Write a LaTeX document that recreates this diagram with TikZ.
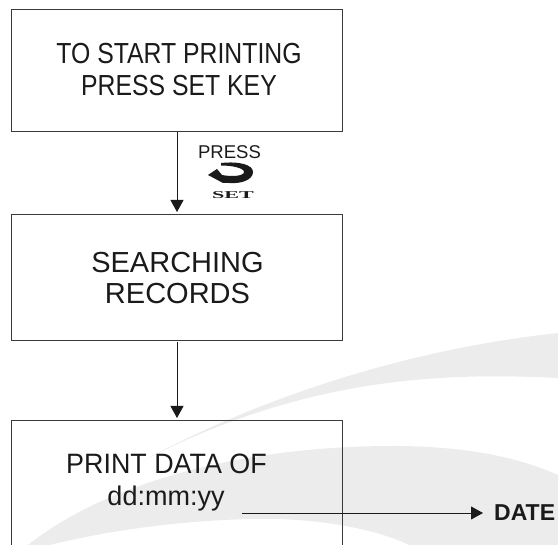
\documentclass[tikz,border=0pt]{standalone}
\usepackage{fontspec}
\setmainfont{Liberation Sans}
\newfontfamily\condfont[FakeStretch=0.855]{Liberation Sans}
\newfontfamily\semifont[FakeStretch=0.96]{Liberation Sans}
\newfontfamily\widefont[FakeStretch=2.1]{Liberation Serif}
\usetikzlibrary{arrows.meta}
\definecolor{swoosh}{HTML}{EBECEB}
\definecolor{ink}{HTML}{1A1A1A}
\definecolor{boxline}{HTML}{3A3A3A}
\tikzset{
  x=1pt,y=-1pt,
  flowbox/.style={draw=boxline,line width=0.9pt,minimum width=331pt,anchor=north west,inner sep=0pt},
  boxtext/.style={text=ink,align=center,inner sep=0pt},
  conn/.style={draw=ink,line width=0.9pt,-{Triangle[length=12pt,width=13pt]}},
  smalltext/.style={text=ink,inner sep=0pt}
}
\begin{document}
\begin{tikzpicture}
\useasboundingbox (0,0) rectangle (558,545);
% background swooshes
\begin{scope}
\clip (0,0) rectangle (558,545);
\fill[swoosh] (139,463) .. controls (250,402) and (400,350) .. (558,333)
  -- (558,378) .. controls (440,372) and (300,378) .. (139,463) -- cycle;
\fill[swoosh] (28,545) .. controls (110,480) and (250,445) .. (400,446)
  .. controls (470,447) and (520,458) .. (558,475)
  -- (558,545) -- (409,545) .. controls (375,528) and (310,517) .. (249,519)
  .. controls (180,521) and (110,530) .. (50,545) -- cycle;
\end{scope}
% boxes
\node[flowbox,minimum height=122pt] (b1) at (11,9) {};
\node[flowbox,minimum height=126pt] (b2) at (11,214) {};
\begin{scope}
\clip (0,400) rectangle (558,545);
\node[flowbox,minimum height=140pt] (b3) at (11,420) {};
\end{scope}
\node[boxtext,font=\condfont\fontsize{29}{32}\selectfont] (t1) at (179,70) {TO START PRINTING\\PRESS SET KEY};
\node[boxtext,font=\fontsize{29}{31}\selectfont] (t2) at (177.5,278) {SEARCHING\\RECORDS};
\node[boxtext,font=\semifont\fontsize{28}{32}\selectfont,anchor=base] (t3a) at (166.5,474) {PRINT DATA OF};
\node[boxtext,font=\fontsize{27}{30}\selectfont,anchor=base] (t3b) at (166,506) {dd:mm:yy};
% connectors
\coordinate (a1s) at (177,132);
\coordinate (a1e) at (177,212);
\coordinate (a2s) at (177,342);
\coordinate (a2e) at (177,418);
\coordinate (a3s) at (242,513);
\coordinate (a3e) at (483,513);
\node[smalltext,font=\bfseries\fontsize{23}{26}\selectfont,anchor=west] (date) at (494,512.5) {DATE};
\draw[conn] (a1s) -- (a1e);
\draw[conn] (a2s) -- (a2e);
\draw[conn] (a3s) -- (a3e);
% press set
\node[smalltext,font=\fontsize{18.5}{20}\selectfont,anchor=base] (press) at (229.5,159) {PRESS};
\fill[ink] (221,163) .. controls (240,161) and (253,165) .. (253,172)
  .. controls (253,180) and (241,184) .. (229,183) -- (223,183) -- (208,175) -- (217,169)
  -- (222,175) .. controls (232,177) and (244,176) .. (244,172)
  .. controls (244,168) and (232,165.5) .. (221,165.5) -- cycle;
\node[smalltext,font=\widefont\bfseries\fontsize{10.5}{12}\selectfont,anchor=base] (setk) at (233,199) {SET};
\end{tikzpicture}
\end{document}
